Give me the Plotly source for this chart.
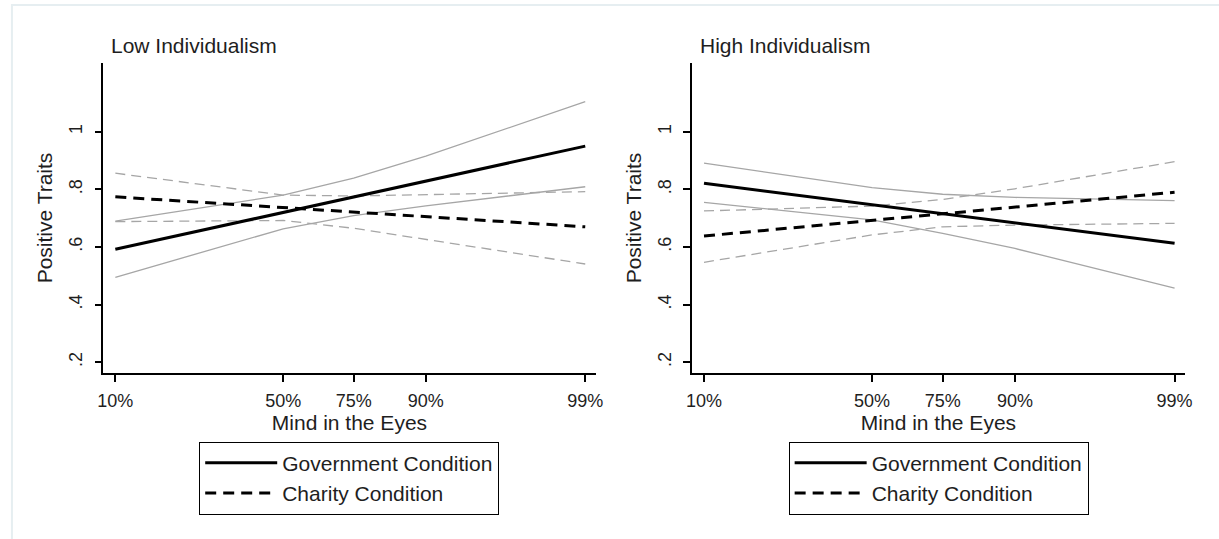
import plotly.graph_objects as go

# ---- data ----
percentile_labels = ["10%", "50%", "75%", "90%", "99%"]
eyes_score = [21.0, 26.0, 28.1, 30.25, 35.0]
y_tick_vals = [0.2, 0.4, 0.6, 0.8, 1.0]
y_tick_text = [".2", ".4", ".6", ".8", "1"]

low_gov = [0.592, 0.719, 0.774, 0.829, 0.950]
low_gov_hi = [0.690, 0.780, 0.839, 0.915, 1.104]
low_gov_lo = [0.495, 0.663, 0.709, 0.743, 0.809]
low_char = [0.774, 0.737, 0.721, 0.705, 0.670]
low_char_hi = [0.856, 0.780, 0.777, 0.781, 0.792]
low_char_lo = [0.688, 0.692, 0.665, 0.627, 0.541]

high_gov = [0.821, 0.747, 0.716, 0.683, 0.613]
high_gov_hi = [0.891, 0.806, 0.783, 0.772, 0.761]
high_gov_lo = [0.755, 0.694, 0.647, 0.595, 0.457]
high_char = [0.638, 0.692, 0.715, 0.738, 0.790]
high_char_hi = [0.725, 0.742, 0.765, 0.802, 0.896]
high_char_lo = [0.547, 0.642, 0.670, 0.676, 0.682]

panel_titles = ["Low Individualism", "High Individualism"]
series_names = ["Government Condition", "Charity Condition"]

# ---- styles ----
FONT = "Liberation Sans, Arial, sans-serif"
TXT = "#1e1e1e"
GRAY = "#a6a6a6"
W, H = 1219, 539

fig = go.Figure()

panels = [
    ("x", "y", "legend", low_gov, low_gov_hi, low_gov_lo, low_char, low_char_hi, low_char_lo),
    ("x2", "y2", "legend2", high_gov, high_gov_hi, high_gov_lo, high_char, high_char_hi, high_char_lo),
]

for xa, ya, lg, g, ghi, glo, c, chi, clo in panels:
    for ci in (ghi, glo):
        fig.add_trace(go.Scatter(x=eyes_score, y=ci, mode="lines", xaxis=xa, yaxis=ya,
                                 line=dict(color=GRAY, width=1.3), showlegend=False, hoverinfo="skip"))
    for ci in (chi, clo):
        fig.add_trace(go.Scatter(x=eyes_score, y=ci, mode="lines", xaxis=xa, yaxis=ya,
                                 line=dict(color=GRAY, width=1.3, dash="10px,6px"),
                                 showlegend=False, hoverinfo="skip"))
    fig.add_trace(go.Scatter(x=eyes_score, y=g, mode="lines", xaxis=xa, yaxis=ya,
                             name=series_names[0], legend=lg,
                             line=dict(color="black", width=3)))
    fig.add_trace(go.Scatter(x=eyes_score, y=c, mode="lines", xaxis=xa, yaxis=ya,
                             name=series_names[1], legend=lg,
                             line=dict(color="black", width=3, dash="11px,7px")))

xr = [20.64, 35.31]
yr = [0.1618, 1.2394]
ydom = [1 - 373.3 / H, 1 - 62.7 / H]

def xaxis_cfg(dom, anchor):
    return dict(domain=dom, anchor=anchor, range=xr, showgrid=False, zeroline=False,
                showline=True, linecolor="black", linewidth=1.5,
                ticks="outside", ticklen=7, tickwidth=1.5, tickcolor="black",
                tickvals=eyes_score, ticktext=percentile_labels,
                tickfont=dict(family=FONT, size=18, color=TXT), ticklabelstandoff=3,
                title=dict(text="Mind in the Eyes", font=dict(family=FONT, size=21, color=TXT), standoff=4))

def yaxis_cfg(anchor):
    return dict(domain=ydom, anchor=anchor, range=yr, showgrid=False, zeroline=False,
                showline=True, linecolor="black", linewidth=1.5,
                ticks="outside", ticklen=7, tickwidth=1.5, tickcolor="black",
                tickvals=y_tick_vals, ticktext=y_tick_text, tickangle=-90,
                tickfont=dict(family=FONT, size=18, color=TXT), ticklabelstandoff=5,
                title=dict(text="Positive Traits", font=dict(family=FONT, size=21, color=TXT), standoff=8))

legend_common = dict(bordercolor="black", borderwidth=1, bgcolor="white",
                     font=dict(family=FONT, size=21, color=TXT), yanchor="top", xanchor="center",
                     y=1 - 441.5 / H, tracegroupgap=0, itemwidth=72)

fig.update_layout(
    width=W, height=H, margin=dict(l=0, r=0, t=0, b=0),
    paper_bgcolor="white", plot_bgcolor="white",
    xaxis=xaxis_cfg([98.3 / W, 596 / W], "y"),
    yaxis=yaxis_cfg("x"),
    xaxis2=xaxis_cfg([693.3 / W, 1191.7 / W], "y2"),
    yaxis2=yaxis_cfg("x2"),
    legend=dict(x=346.9 / W, **legend_common),
    legend2=dict(x=942.7 / W, **legend_common),
    annotations=[
        dict(text=panel_titles[0], xref="paper", yref="paper", x=104.3 / W, y=1 - 45.7 / H,
             xanchor="left", yanchor="middle", showarrow=False,
             font=dict(family=FONT, size=21, color=TXT)),
        dict(text=panel_titles[1], xref="paper", yref="paper", x=699 / W, y=1 - 45.7 / H,
             xanchor="left", yanchor="middle", showarrow=False,
             font=dict(family=FONT, size=21, color=TXT)),
    ],
    shapes=[
        dict(type="rect", xref="paper", yref="paper", x0=6 / W, x1=1.05, y0=-0.05, y1=1 - 5 / H,
             line=dict(color="#e6eef1", width=2), layer="below"),
    ],
    showlegend=True,
)

fig.write_html("out.html", config={"displayModeBar": False},
               post_script="document.body.style.margin='0px';document.body.style.overflow='hidden';")
